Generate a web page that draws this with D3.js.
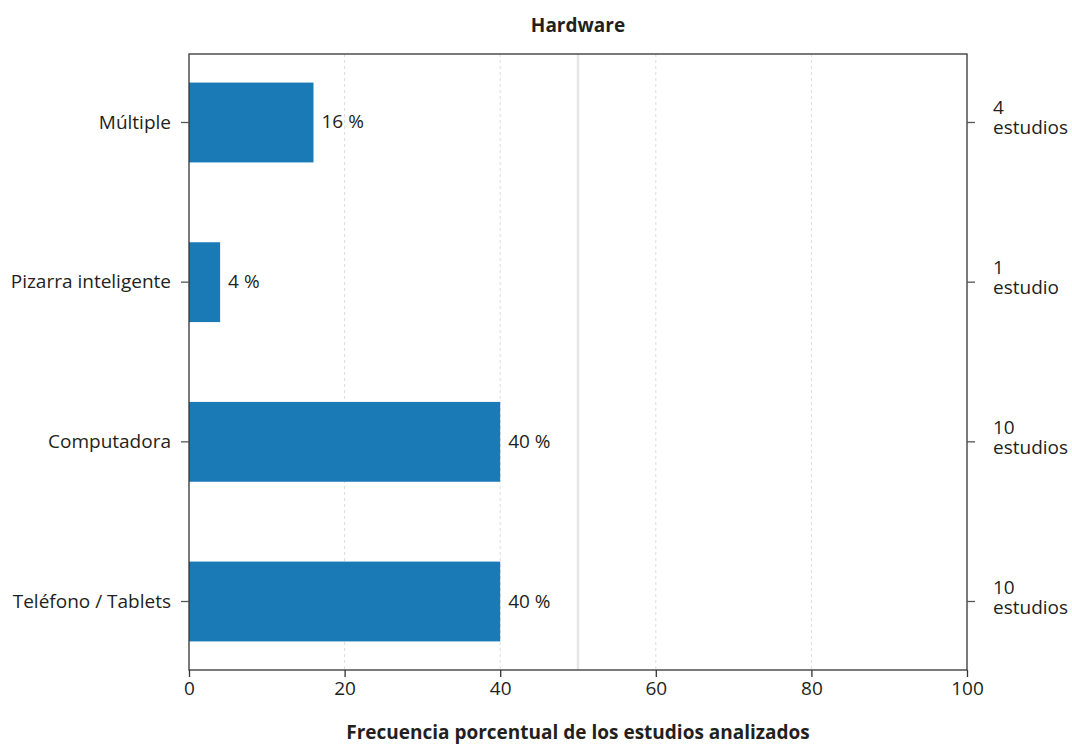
<!DOCTYPE html>
<html><head><meta charset="utf-8">
<script src="https://cdn.jsdelivr.net/npm/d3@7"></script>
<style>body{margin:0;background:#fff}text{font-family:"Open Sans",sans-serif;fill:#231f20}</style>
</head><body><svg id="c" width="1072" height="745"></svg>
<script>
const categories = ["Múltiple","Pizarra inteligente","Computadora","Teléfono / Tablets"];
const values = [16,4,40,40];
const studies = [4,1,10,10];
const xTicks = [0,20,40,60,80,100];

const svg = d3.select("#c");
const m = {l:189,r:967,t:54,b:670};
const x = d3.scaleLinear().domain([0,100]).range([m.l,m.r]);
const y = d3.scaleBand().domain(categories).range([m.t,m.b]).paddingInner(0.5).paddingOuter(0.179);
const fs = 19;
const ff = "'Open Sans',sans-serif";

// grid
svg.append("g").selectAll("line").data([20,40,60,80]).join("line")
  .attr("x1",d=>x(d)).attr("x2",d=>x(d)).attr("y1",m.t).attr("y2",m.b)
  .attr("stroke","#dcdcdc").attr("stroke-dasharray","3,3").attr("stroke-width",1);
svg.append("line").attr("x1",x(50)).attr("x2",x(50)).attr("y1",m.t).attr("y2",m.b)
  .attr("stroke","#e6e6e6").attr("stroke-width",2.5);

// bars
svg.append("g").selectAll("rect").data(categories).join("rect")
  .attr("x",x(0)).attr("y",d=>y(d)).attr("height",y.bandwidth())
  .attr("width",(d,i)=>x(values[i])-x(0)).attr("fill","#1a7ab5");
svg.append("g").selectAll("text").data(categories).join("text")
  .attr("x",(d,i)=>x(values[i])+8).attr("y",d=>y(d)+y.bandwidth()/2+6)
  .attr("font-size",fs).text((d,i)=>values[i]+" %");

// frame
svg.append("rect").attr("x",m.l).attr("y",m.t).attr("width",m.r-m.l).attr("height",m.b-m.t)
  .attr("fill","none").attr("stroke","#333").attr("stroke-width",1.3);

// bottom axis
const xa = svg.append("g").attr("transform",`translate(0,${m.b})`)
  .call(d3.axisBottom(x).tickValues(xTicks).tickSize(7).tickPadding(5));
xa.select(".domain").remove();
xa.selectAll("line").attr("stroke","#333").attr("stroke-width",1.3);
xa.selectAll("text").attr("font-size",fs).attr("fill","#231f20").style("font-family",ff);

// left axis
const ya = svg.append("g").attr("transform",`translate(${m.l},0)`)
  .call(d3.axisLeft(y).tickSize(8).tickPadding(10));
ya.select(".domain").remove();
ya.selectAll("line").attr("stroke","#555").attr("stroke-width",1.3);
ya.selectAll("text").attr("font-size",fs).attr("fill","#231f20").style("font-family",ff);

// right axis
const ra = svg.append("g").attr("transform",`translate(${m.r},0)`)
  .call(d3.axisRight(y).tickSize(8).tickFormat(""));
ra.select(".domain").remove();
ra.selectAll("line").attr("stroke","#555").attr("stroke-width",1.3);
const rl = svg.append("g").selectAll("text").data(categories).join("text")
  .attr("x",993).attr("y",d=>y(d)+y.bandwidth()/2-8).attr("font-size",fs);
rl.append("tspan").attr("x",993).text((d,i)=>studies[i]);
rl.append("tspan").attr("x",993).attr("dy",20).text((d,i)=>studies[i]===1?"estudio":"estudios");

// titles
svg.append("text").attr("x",(m.l+m.r)/2).attr("y",32).attr("text-anchor","middle")
  .attr("font-size",19).attr("font-weight","bold").text("Hardware");
svg.append("text").attr("x",(m.l+m.r)/2).attr("y",739).attr("text-anchor","middle")
  .attr("font-size",19).attr("font-weight","bold").text("Frecuencia porcentual de los estudios analizados");
</script></body></html>
